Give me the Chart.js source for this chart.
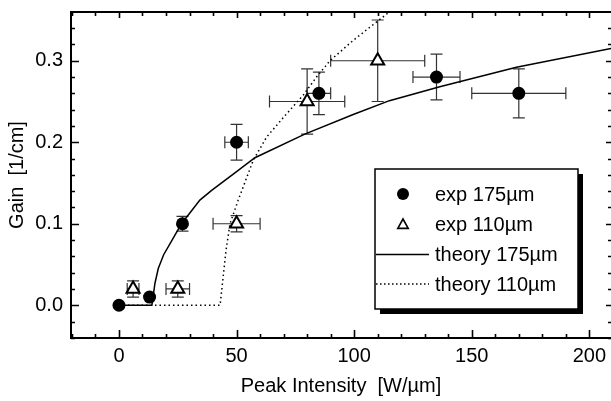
<!DOCTYPE html>
<html>
<head>
<meta charset="utf-8">
<script src="https://cdn.jsdelivr.net/npm/chart.js@4.4.1/dist/chart.umd.min.js"></script>
<style>
  body { margin: 0; background: #fff; }
  #wrap { width: 611px; height: 401px; }
</style>
</head>
<body>
<div id="wrap"><canvas id="gainChart" width="611" height="401"></canvas></div>
<script>
// * data
const exp175X = [0, 13, 27, 50, 85, 135, 170];
const exp175Y = [0.0, 0.01, 0.1, 0.2, 0.26, 0.28, 0.26];
const exp175XErr = [0, 0, 0, 5, 5, 10, 20];
const exp175YErr = [0, 0, 0.009, 0.022, 0.026, 0.028, 0.03];

const exp110X = [6, 25, 50, 80, 110];
const exp110Y = [0.02, 0.02, 0.1, 0.25, 0.3];
const exp110XErr = [2.5, 5, 10, 16, 20];
const exp110YErr = [0.01, 0.01, 0.01, 0.04, 0.05];

const theory175X = [0, 14, 15.3, 16.7, 19, 23, 26.6, 34.4, 39.4, 50, 57.8, 79, 99.6, 115, 136.4, 169, 209.2];
const theory175Y = [0, 0, 0.027, 0.045, 0.062, 0.082, 0.1, 0.129, 0.141, 0.164, 0.181, 0.21, 0.234, 0.251, 0.268, 0.292, 0.315];

const theory110X = [0, 14, 43, 45.5, 47.2, 50.7, 57.1, 62.8, 71.3, 78.4, 84, 89.7, 99.6, 115];
const theory110Y = [0, 0, 0, 0.067, 0.1, 0.129, 0.178, 0.2065, 0.235, 0.258, 0.28, 0.3, 0.325, 0.36];

const labels = ["exp 175\u00b5m", "exp 110\u00b5m", "theory 175\u00b5m", "theory 110\u00b5m"];
const xMajor = [0, 50, 100, 150, 200];
const yMajor = [0, 0.1, 0.2, 0.3];

const toPoints = (xs, ys) => xs.map((v, i) => ({ x: v, y: ys[i] }));

const FONT = "'Liberation Sans', Arial, Helvetica, sans-serif";
Chart.defaults.font.family = FONT;
Chart.defaults.font.size = 20;
Chart.defaults.color = "#000";

// ? error bars drawn under the markers
const errorBars = {
  id: "errorBars",
  beforeDatasetsDraw(chart) {
    const { ctx } = chart;
    const xs = chart.scales.x;
    const ys = chart.scales.y;
    const cap = 6;
    ctx.save();
    ctx.strokeStyle = "#333";
    ctx.lineWidth = 1.2;
    chart.data.datasets.forEach((ds) => {
      if (!ds.xErr) return;
      ds.data.forEach((p, i) => {
        const px = xs.getPixelForValue(p.x);
        const py = ys.getPixelForValue(p.y);
        ctx.beginPath();
        if (ds.xErr[i] > 0) {
          const x1 = xs.getPixelForValue(p.x - ds.xErr[i]);
          const x2 = xs.getPixelForValue(p.x + ds.xErr[i]);
          ctx.moveTo(x1, py); ctx.lineTo(x2, py);
          ctx.moveTo(x1, py - cap); ctx.lineTo(x1, py + cap);
          ctx.moveTo(x2, py - cap); ctx.lineTo(x2, py + cap);
        }
        if (ds.yErr[i] > 0) {
          const y1 = ys.getPixelForValue(p.y - ds.yErr[i]);
          const y2 = ys.getPixelForValue(p.y + ds.yErr[i]);
          ctx.moveTo(px, y1); ctx.lineTo(px, y2);
          ctx.moveTo(px - cap, y1); ctx.lineTo(px + cap, y1);
          ctx.moveTo(px - cap, y2); ctx.lineTo(px + cap, y2);
        }
        ctx.stroke();
      });
    });
    ctx.restore();
  },
};

// ? box with inward ticks on all four sides
const frame = {
  id: "frame",
  afterDraw(chart) {
    const { ctx, chartArea: a } = chart;
    const xs = chart.scales.x;
    const ys = chart.scales.y;
    ctx.save();
    ctx.strokeStyle = "#000";
    ctx.lineWidth = 2;
    ctx.strokeRect(a.left, a.top, a.right - a.left + 2, a.bottom - a.top);
    ctx.lineWidth = 1.6;
    ctx.beginPath();
    for (let v = -20; v <= 200; v += 10) {
      const px = Math.round(xs.getPixelForValue(v)) + 0.5;
      const major = xMajor.includes(v);
      const lb = major ? 8 : 4;
      const lt = major ? 6 : 4;
      ctx.moveTo(px, a.bottom); ctx.lineTo(px, a.bottom - lb);
      ctx.moveTo(px, a.top); ctx.lineTo(px, a.top + lt);
    }
    for (let k = -2; k <= 17; k++) {
      const v = k * 0.02;
      const py = Math.round(ys.getPixelForValue(v)) + 0.5;
      const major = k % 5 === 0;
      const ll = major ? 8 : 4;
      const lr = major ? 6 : 4;
      ctx.moveTo(a.left, py); ctx.lineTo(a.left + ll, py);
      ctx.moveTo(a.right + 1, py); ctx.lineTo(a.right + 1 - lr, py);
    }
    ctx.stroke();
    ctx.restore();
  },
};

// ? legend box with drop shadow inside the plot
const boxLegend = {
  id: "boxLegend",
  afterDraw(chart) {
    const { ctx } = chart;
    const bx = 375, by = 169, bw = 203, bh = 140;
    const rows = [194, 224.5, 254.5, 284];
    ctx.save();
    ctx.fillStyle = "#000";
    ctx.fillRect(bx + 5, by + 5, bw, bh);
    ctx.fillStyle = "#fff";
    ctx.fillRect(bx, by, bw, bh);
    ctx.strokeStyle = "#000";
    ctx.lineWidth = 1.5;
    ctx.strokeRect(bx, by, bw, bh);

    const mx = 403;
    // circle
    ctx.fillStyle = "#000";
    ctx.beginPath();
    ctx.arc(mx, rows[0], 6, 0, Math.PI * 2);
    ctx.fill();
    // triangle
    const r = 5.5;
    ctx.beginPath();
    ctx.moveTo(mx, rows[1] - r);
    ctx.lineTo(mx + r * 0.95, rows[1] + r * 0.7);
    ctx.lineTo(mx - r * 0.95, rows[1] + r * 0.7);
    ctx.closePath();
    ctx.fillStyle = "#fff";
    ctx.fill();
    ctx.lineWidth = 1.6;
    ctx.stroke();
    // lines
    ctx.lineWidth = 1.3;
    ctx.beginPath();
    ctx.moveTo(376, rows[2]); ctx.lineTo(429, rows[2]);
    ctx.stroke();
    ctx.setLineDash([1.5, 2.5]);
    ctx.beginPath();
    ctx.moveTo(376, rows[3]); ctx.lineTo(429, rows[3]);
    ctx.stroke();
    ctx.setLineDash([]);

    ctx.fillStyle = "#000";
    ctx.font = "20px " + FONT;
    ctx.textBaseline = "middle";
    ctx.textAlign = "left";
    labels.forEach((t, i) => ctx.fillText(t, 435, rows[i] + 1));
    ctx.restore();
  },
};

const gainCanvas = document.getElementById("gainChart").getContext("2d");
const gainChart = new Chart(gainCanvas, {
  type: "scatter",
  data: {
    datasets: [
      {
        label: labels[2],
        data: toPoints(theory175X, theory175Y),
        showLine: true,
        borderColor: "#000",
        borderWidth: 1.5,
        pointRadius: 0,
        tension: 0,
      },
      {
        label: labels[3],
        data: toPoints(theory110X, theory110Y),
        showLine: true,
        borderColor: "#000",
        borderWidth: 1.5,
        borderDash: [1.5, 3],
        pointRadius: 0,
        tension: 0,
      },
      {
        label: labels[0],
        data: toPoints(exp175X, exp175Y),
        xErr: exp175XErr,
        yErr: exp175YErr,
        pointStyle: "circle",
        pointRadius: 6.5,
        backgroundColor: "#000",
        borderColor: "#000",
        borderWidth: 0,
      },
      {
        label: labels[1],
        data: toPoints(exp110X, exp110Y),
        xErr: exp110XErr,
        yErr: exp110YErr,
        pointStyle: "triangle",
        pointRadius: 7.5,
        backgroundColor: "#fff",
        borderColor: "#000",
        borderWidth: 2,
      },
    ],
  },
  options: {
    responsive: false,
    animation: false,
    layout: { padding: { top: 12, right: 0, left: 0, bottom: 0 }, autoPadding: false },
    plugins: { legend: { display: false }, tooltip: { enabled: false } },
    scales: {
      x: {
        type: "linear",
        min: -20.4,
        max: 209.2,
        grid: { display: false, drawTicks: false },
        border: { display: false },
        ticks: { padding: 6, callback: (v) => String(v) },
        afterBuildTicks: (s) => { s.ticks = xMajor.map((v) => ({ value: v })); },
        title: { display: true, text: "Peak Intensity  [W/\u00b5m]", padding: { top: 0, bottom: 3 } },
        afterFit: (s) => { s.height = 63; s.paddingLeft = 0; s.paddingRight = 0; },
      },
      y: {
        type: "linear",
        min: -0.0402,
        max: 0.3598,
        grid: { display: false, drawTicks: false },
        border: { display: false },
        ticks: { padding: 8, callback: (v) => v.toFixed(1) },
        afterBuildTicks: (s) => { s.ticks = yMajor.map((v) => ({ value: v })); },
        title: { display: true, text: "Gain  [1/cm]", padding: { top: 5, bottom: 0 } },
        afterFit: (s) => { s.width = 71; s.paddingTop = 0; s.paddingBottom = 0; },
      },
    },
  },
  plugins: [errorBars, frame, boxLegend],
});
</script>
</body>
</html>
